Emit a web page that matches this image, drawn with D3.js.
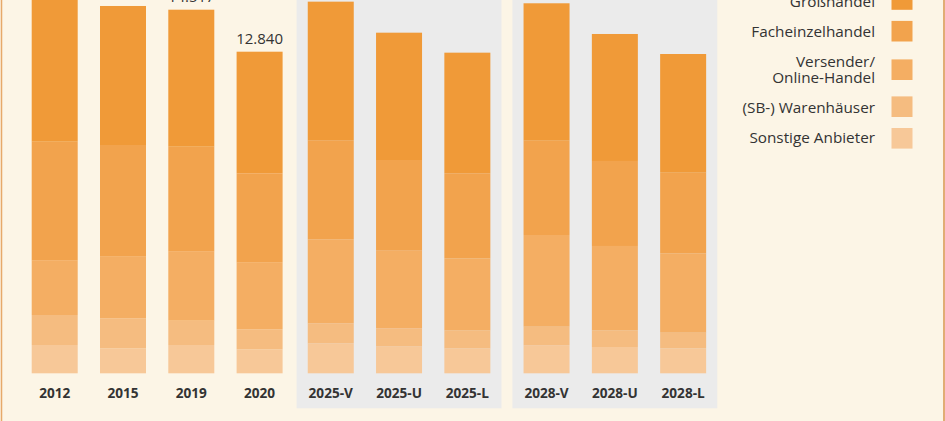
<!DOCTYPE html>
<html><head><meta charset="utf-8">
<script src="https://cdn.jsdelivr.net/npm/d3@7"></script>
<style>
html,body{margin:0;padding:0;background:#FCF5E6;}
svg{display:block;font-family:"Open Sans",sans-serif;}
</style></head>
<body>
<svg id="c" width="945" height="421"></svg>
<script>
// ---- data ----
const groupHist = ["2012","2015","2019","2020"];
const group2025 = ["2025-V","2025-U","2025-L"];
const group2028 = ["2028-V","2028-U","2028-L"];
const categories = [...groupHist, ...group2025, ...group2028];
const seriesNames = ["Großhandel","Facheinzelhandel","Versender/\nOnline-Handel","(SB-) Warenhäuser","Sonstige Anbieter"];
// values per category (same order as categories)
const grosshandel      = [5850, 5550, 5470, 4855, 5550, 5083, 4815, 5486, 5070, 4739];
const facheinzelhandel = [4751, 4460, 4192, 3569, 3937, 3621, 3394, 3765, 3394, 3218];
const versender        = [2168, 2459, 2755, 2659, 3354, 3098, 2883, 3661, 3374, 3170];
const warenhaeuser     = [1198, 1198,  970,  799,  799,  727,  719,  739,  659,  623];
const sonstige         = [1130,  998, 1130,  958, 1198, 1070,  990, 1122, 1050,  998];
const totalLabels = ["15.097","14.665","14.517","12.840"]; // labels shown above historic bars
const colors = ["#F09A38","#F2A34D","#F4AE63","#F5BC80","#F7C898"];

// ---- layout ----
const svg = d3.select("#c");
const W = 945, H = 421;
const yBase = 373.3, pxPerUnit = 0.025047;
const y = d3.scaleLinear().domain([0, 16000]).range([yBase, yBase - 16000*pxPerUnit]);
const step = 68.3, pad = 1 - 46/step;
function band(dom, x0){
  return d3.scaleBand().domain(dom).range([x0, x0 + dom.length*step]).paddingInner(pad).paddingOuter(pad/2);
}
const groups = [
  {cats: groupHist, x: band(groupHist, 20.55), panel:false},
  {cats: group2025, x: band(group2025, 296.6), panel:true},
  {cats: group2028, x: band(group2028, 512.4), panel:true}
];
const xOf = {};
groups.forEach(g => g.cats.forEach(c => xOf[c] = g.x));

// panels
groups.filter(g=>g.panel).forEach(g=>{
  const r = g.x.range();
  svg.append("rect").attr("x", r[0]).attr("y", -20).attr("width", r[1]-r[0]).attr("height", 408.3+20)
    .attr("fill","#EBEBEB");
});

// stacked data
const rows = categories.map((c,i)=>({cat:c, s4:sonstige[i], s3:warenhaeuser[i], s2:versender[i], s1:facheinzelhandel[i], s0:grosshandel[i]}));
const stack = d3.stack().keys(["s4","s3","s2","s1","s0"]);
const layers = stack(rows);
const keyColor = {s0:colors[0], s1:colors[1], s2:colors[2], s3:colors[3], s4:colors[4]};

layers.forEach(layer=>{
  svg.append("g").selectAll("rect").data(layer).join("rect")
    .attr("x", d=>xOf[d.data.cat](d.data.cat))
    .attr("width", d=>xOf[d.data.cat].bandwidth())
    .attr("y", d=>y(d[1]))
    .attr("height", d=>y(d[0])-y(d[1]))
    .attr("fill", keyColor[layer.key]);
});

// value labels
groupHist.forEach((c,i)=>{
  const top = layers[layers.length-1][i][1];
  svg.append("text").attr("x", xOf[c](c)+xOf[c].bandwidth()/2).attr("y", y(top)-7.6)
    .attr("text-anchor","middle").attr("font-size",15).attr("fill","#333").text(totalLabels[i]);
});

// category labels
categories.forEach(c=>{
  svg.append("text").attr("x", xOf[c](c)+xOf[c].bandwidth()/2).attr("y", 397.5)
    .attr("text-anchor","middle").attr("font-size",13.6).attr("font-weight",700).attr("fill","#333").text(c);
});

// legend
const legY = [-0.5, 31.2, 69.7, 106.7, 138.3];
const legBase = [[7.3],[37.3],[66.7,83.3],[113.3],[143]];
seriesNames.forEach((n,i)=>{
  svg.append("rect").attr("x",891.5).attr("y",legY[i]-10.3).attr("width",21).attr("height",20.6).attr("fill",colors[i]);
  n.split("\n").forEach((ln,j)=>{
    svg.append("text").attr("x",875).attr("y",legBase[i][j]).attr("text-anchor","end")
      .attr("font-size",15.3).attr("fill","#333").text(ln);
  });
});

// borders
svg.append("line").attr("x1",1.5).attr("x2",1.5).attr("y1",0).attr("y2",H).attr("stroke","#E6A96A").attr("stroke-width",1.5);
svg.append("line").attr("x1",944).attr("x2",944).attr("y1",0).attr("y2",H).attr("stroke","#D9954F").attr("stroke-width",1.5);
</script>
</body></html>
